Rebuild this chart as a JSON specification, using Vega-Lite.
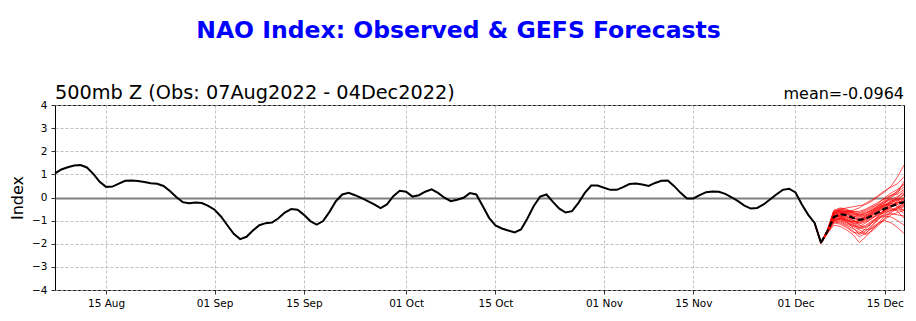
{
  "$schema": "https://vega.github.io/schema/vega-lite/v6.json",
  "width": 849,
  "height": 185,
  "autosize": {"type": "none"},
  "padding": {"left": 55, "top": 105, "right": 12, "bottom": 31},
  "background": "white",
  "title": {"text": "NAO Index: Observed & GEFS Forecasts", "font": "DejaVu Sans", "fontSize": 23.5, "fontWeight": "bold", "color": "#0000ff", "anchor": "middle", "frame": "group", "dx": -21, "offset": 42},
  "config": {
    "view": {"stroke": "black", "strokeWidth": 1},
    "font": "DejaVu Sans",
    "axis": {"labelFont": "DejaVu Sans", "labelFontSize": 10.5, "labelColor": "black", "tickColor": "black", "tickSize": 4, "tickWidth": 0.8, "labelPadding": 4, "domain": false, "gridColor": "#b0b0b0", "gridDash": [3, 2], "gridWidth": 0.8, "titleFont": "DejaVu Sans", "titleFontWeight": "normal", "titleColor": "black", "titleFontSize": 16, "labelOverlap": false}
  },
  "datasets": {
    "obs": [
      {"date": "2022-08-07", "v": 1.04}, {"date": "2022-08-08", "v": 1.21}, {"date": "2022-08-09", "v": 1.31}, {"date": "2022-08-10", "v": 1.38},
      {"date": "2022-08-11", "v": 1.40}, {"date": "2022-08-12", "v": 1.30}, {"date": "2022-08-13", "v": 1.02}, {"date": "2022-08-14", "v": 0.68},
      {"date": "2022-08-15", "v": 0.46}, {"date": "2022-08-16", "v": 0.47}, {"date": "2022-08-17", "v": 0.60}, {"date": "2022-08-18", "v": 0.72},
      {"date": "2022-08-19", "v": 0.73}, {"date": "2022-08-20", "v": 0.71}, {"date": "2022-08-21", "v": 0.67}, {"date": "2022-08-22", "v": 0.62},
      {"date": "2022-08-23", "v": 0.59}, {"date": "2022-08-24", "v": 0.50}, {"date": "2022-08-25", "v": 0.28}, {"date": "2022-08-26", "v": 0.02},
      {"date": "2022-08-27", "v": -0.20}, {"date": "2022-08-28", "v": -0.25}, {"date": "2022-08-29", "v": -0.22}, {"date": "2022-08-30", "v": -0.24},
      {"date": "2022-08-31", "v": -0.36}, {"date": "2022-09-01", "v": -0.53}, {"date": "2022-09-02", "v": -0.82}, {"date": "2022-09-03", "v": -1.20},
      {"date": "2022-09-04", "v": -1.57}, {"date": "2022-09-05", "v": -1.80}, {"date": "2022-09-06", "v": -1.70}, {"date": "2022-09-07", "v": -1.43},
      {"date": "2022-09-08", "v": -1.20}, {"date": "2022-09-09", "v": -1.11}, {"date": "2022-09-10", "v": -1.08}, {"date": "2022-09-11", "v": -0.90},
      {"date": "2022-09-12", "v": -0.65}, {"date": "2022-09-13", "v": -0.50}, {"date": "2022-09-14", "v": -0.53}, {"date": "2022-09-15", "v": -0.75},
      {"date": "2022-09-16", "v": -1.02}, {"date": "2022-09-17", "v": -1.17}, {"date": "2022-09-18", "v": -1.02}, {"date": "2022-09-19", "v": -0.62},
      {"date": "2022-09-20", "v": -0.16}, {"date": "2022-09-21", "v": 0.13}, {"date": "2022-09-22", "v": 0.20}, {"date": "2022-09-23", "v": 0.10},
      {"date": "2022-09-24", "v": -0.02}, {"date": "2022-09-25", "v": -0.16}, {"date": "2022-09-26", "v": -0.30}, {"date": "2022-09-27", "v": -0.46},
      {"date": "2022-09-28", "v": -0.30}, {"date": "2022-09-29", "v": 0.06}, {"date": "2022-09-30", "v": 0.29}, {"date": "2022-10-01", "v": 0.25},
      {"date": "2022-10-02", "v": 0.04}, {"date": "2022-10-03", "v": 0.10}, {"date": "2022-10-04", "v": 0.25}, {"date": "2022-10-05", "v": 0.35},
      {"date": "2022-10-06", "v": 0.20}, {"date": "2022-10-07", "v": -0.01}, {"date": "2022-10-08", "v": -0.16}, {"date": "2022-10-09", "v": -0.10},
      {"date": "2022-10-10", "v": -0.01}, {"date": "2022-10-11", "v": 0.19}, {"date": "2022-10-12", "v": 0.13}, {"date": "2022-10-13", "v": -0.37},
      {"date": "2022-10-14", "v": -0.88}, {"date": "2022-10-15", "v": -1.21}, {"date": "2022-10-16", "v": -1.34}, {"date": "2022-10-17", "v": -1.43},
      {"date": "2022-10-18", "v": -1.51}, {"date": "2022-10-19", "v": -1.38}, {"date": "2022-10-20", "v": -0.91}, {"date": "2022-10-21", "v": -0.37},
      {"date": "2022-10-22", "v": 0.04}, {"date": "2022-10-23", "v": 0.13}, {"date": "2022-10-24", "v": -0.19}, {"date": "2022-10-25", "v": -0.48},
      {"date": "2022-10-26", "v": -0.65}, {"date": "2022-10-27", "v": -0.59}, {"date": "2022-10-28", "v": -0.23}, {"date": "2022-10-29", "v": 0.20},
      {"date": "2022-10-30", "v": 0.52}, {"date": "2022-10-31", "v": 0.52}, {"date": "2022-11-01", "v": 0.42}, {"date": "2022-11-02", "v": 0.33},
      {"date": "2022-11-03", "v": 0.33}, {"date": "2022-11-04", "v": 0.45}, {"date": "2022-11-05", "v": 0.58}, {"date": "2022-11-06", "v": 0.61},
      {"date": "2022-11-07", "v": 0.56}, {"date": "2022-11-08", "v": 0.50}, {"date": "2022-11-09", "v": 0.63}, {"date": "2022-11-10", "v": 0.72},
      {"date": "2022-11-11", "v": 0.73}, {"date": "2022-11-12", "v": 0.49}, {"date": "2022-11-13", "v": 0.20}, {"date": "2022-11-14", "v": -0.04},
      {"date": "2022-11-15", "v": -0.04}, {"date": "2022-11-16", "v": 0.10}, {"date": "2022-11-17", "v": 0.23}, {"date": "2022-11-18", "v": 0.26},
      {"date": "2022-11-19", "v": 0.25}, {"date": "2022-11-20", "v": 0.16}, {"date": "2022-11-21", "v": 0.01}, {"date": "2022-11-22", "v": -0.16},
      {"date": "2022-11-23", "v": -0.35}, {"date": "2022-11-24", "v": -0.48}, {"date": "2022-11-25", "v": -0.45}, {"date": "2022-11-26", "v": -0.30},
      {"date": "2022-11-27", "v": -0.09}, {"date": "2022-11-28", "v": 0.13}, {"date": "2022-11-29", "v": 0.33}, {"date": "2022-11-30", "v": 0.38},
      {"date": "2022-12-01", "v": 0.22}, {"date": "2022-12-02", "v": -0.30}, {"date": "2022-12-03", "v": -0.75}, {"date": "2022-12-04", "v": -1.10},
      {"date": "2022-12-05", "v": -1.97}
    ],
    "ens": [
      {"date": "2022-12-04", "m1": -1.1, "m2": -1.1, "m3": -1.1, "m4": -1.1, "m5": -1.1, "m6": -1.1, "m7": -1.1, "m8": -1.1, "m9": -1.1, "m10": -1.1, "m11": -1.1, "m12": -1.1, "m13": -1.1, "m14": -1.1, "m15": -1.1, "m16": -1.1, "m17": -1.1, "m18": -1.1, "m19": -1.1, "m20": -1.1, "m21": -1.1, "m22": -1.1, "m23": -1.1, "m24": -1.1, "m25": -1.1, "m26": -1.1, "m27": -1.1, "m28": -1.1, "m29": -1.1, "m30": -1.1},
      {"date": "2022-12-05", "m1": -1.95, "m2": -1.97, "m3": -1.96, "m4": -1.98, "m5": -1.95, "m6": -1.96, "m7": -1.97, "m8": -1.95, "m9": -1.98, "m10": -1.96, "m11": -1.97, "m12": -1.95, "m13": -1.96, "m14": -1.97, "m15": -1.95, "m16": -1.96, "m17": -1.98, "m18": -1.96, "m19": -1.97, "m20": -1.95, "m21": -1.96, "m22": -1.97, "m23": -1.95, "m24": -1.98, "m25": -1.96, "m26": -1.95, "m27": -1.97, "m28": -1.96, "m29": -1.95, "m30": -1.97},
      {"date": "2022-12-06", "m1": -1.40, "m2": -1.45, "m3": -1.50, "m4": -1.55, "m5": -1.40, "m6": -1.45, "m7": -1.50, "m8": -1.42, "m9": -1.52, "m10": -1.48, "m11": -1.44, "m12": -1.40, "m13": -1.46, "m14": -1.50, "m15": -1.43, "m16": -1.47, "m17": -1.55, "m18": -1.45, "m19": -1.48, "m20": -1.42, "m21": -1.44, "m22": -1.49, "m23": -1.41, "m24": -1.53, "m25": -1.46, "m26": -1.43, "m27": -1.50, "m28": -1.47, "m29": -1.42, "m30": -1.51},
      {"date": "2022-12-07", "m1": -0.60, "m2": -0.75, "m3": -0.95, "m4": -1.20, "m5": -0.70, "m6": -0.85, "m7": -0.90, "m8": -0.65, "m9": -1.00, "m10": -0.80, "m11": -0.75, "m12": -0.55, "m13": -0.85, "m14": -1.05, "m15": -0.70, "m16": -0.80, "m17": -1.10, "m18": -0.80, "m19": -0.90, "m20": -0.65, "m21": -0.70, "m22": -0.95, "m23": -0.60, "m24": -1.05, "m25": -0.80, "m26": -0.70, "m27": -0.95, "m28": -0.85, "m29": -0.60, "m30": -1.00},
      {"date": "2022-12-08", "m1": -0.50, "m2": -0.65, "m3": -0.90, "m4": -1.25, "m5": -0.60, "m6": -0.80, "m7": -0.75, "m8": -0.55, "m9": -1.00, "m10": -0.70, "m11": -0.80, "m12": -0.45, "m13": -0.85, "m14": -1.10, "m15": -0.65, "m16": -0.70, "m17": -1.15, "m18": -0.75, "m19": -0.90, "m20": -0.60, "m21": -0.55, "m22": -0.95, "m23": -0.55, "m24": -1.05, "m25": -0.85, "m26": -0.65, "m27": -0.90, "m28": -0.80, "m29": -0.50, "m30": -0.95},
      {"date": "2022-12-09", "m1": -0.45, "m2": -0.60, "m3": -1.05, "m4": -1.40, "m5": -0.65, "m6": -0.90, "m7": -0.80, "m8": -0.55, "m9": -1.15, "m10": -0.70, "m11": -0.95, "m12": -0.50, "m13": -1.00, "m14": -1.25, "m15": -0.70, "m16": -0.65, "m17": -1.30, "m18": -0.85, "m19": -1.00, "m20": -0.75, "m21": -0.60, "m22": -1.10, "m23": -0.65, "m24": -1.20, "m25": -0.95, "m26": -0.60, "m27": -0.95, "m28": -0.85, "m29": -0.55, "m30": -1.05},
      {"date": "2022-12-10", "m1": -0.40, "m2": -0.55, "m3": -1.30, "m4": -1.60, "m5": -0.75, "m6": -1.00, "m7": -0.95, "m8": -0.60, "m9": -1.25, "m10": -0.80, "m11": -1.10, "m12": -0.65, "m13": -1.15, "m14": -1.45, "m15": -0.85, "m16": -0.60, "m17": -1.50, "m18": -1.00, "m19": -1.05, "m20": -0.90, "m21": -0.70, "m22": -1.20, "m23": -0.80, "m24": -1.35, "m25": -1.05, "m26": -0.65, "m27": -1.10, "m28": -0.90, "m29": -0.70, "m30": -1.20},
      {"date": "2022-12-11", "m1": -0.35, "m2": -0.45, "m3": -1.60, "m4": -1.95, "m5": -0.80, "m6": -1.10, "m7": -1.20, "m8": -0.65, "m9": -1.40, "m10": -0.90, "m11": -1.25, "m12": -0.70, "m13": -1.30, "m14": -1.70, "m15": -1.00, "m16": -0.60, "m17": -1.55, "m18": -1.05, "m19": -1.10, "m20": -0.95, "m21": -0.75, "m22": -1.35, "m23": -0.85, "m24": -1.50, "m25": -1.00, "m26": -0.75, "m27": -1.15, "m28": -0.95, "m29": -0.80, "m30": -1.30},
      {"date": "2022-12-12", "m1": -0.30, "m2": -0.25, "m3": -1.45, "m4": -1.70, "m5": -0.70, "m6": -1.00, "m7": -1.30, "m8": -0.55, "m9": -1.55, "m10": -0.85, "m11": -1.10, "m12": -0.60, "m13": -1.20, "m14": -1.55, "m15": -0.95, "m16": -0.50, "m17": -1.35, "m18": -0.90, "m19": -0.95, "m20": -0.80, "m21": -0.65, "m22": -1.25, "m23": -0.75, "m24": -1.60, "m25": -0.85, "m26": -0.70, "m27": -1.05, "m28": -0.90, "m29": -0.80, "m30": -1.40},
      {"date": "2022-12-13", "m1": -0.15, "m2": -0.10, "m3": -1.20, "m4": -1.40, "m5": -0.50, "m6": -0.85, "m7": -1.10, "m8": -0.40, "m9": -1.30, "m10": -0.70, "m11": -0.90, "m12": -0.45, "m13": -1.00, "m14": -1.25, "m15": -0.75, "m16": -0.35, "m17": -1.10, "m18": -0.65, "m19": -0.80, "m20": -0.60, "m21": -0.55, "m22": -1.05, "m23": -0.60, "m24": -1.45, "m25": -0.70, "m26": -0.55, "m27": -0.90, "m28": -0.75, "m29": -0.65, "m30": -1.35},
      {"date": "2022-12-14", "m1": 0.05, "m2": 0.10, "m3": -0.90, "m4": -1.10, "m5": -0.35, "m6": -0.70, "m7": -0.80, "m8": -0.30, "m9": -1.10, "m10": -0.50, "m11": -0.75, "m12": -0.25, "m13": -0.85, "m14": -0.95, "m15": -0.55, "m16": -0.20, "m17": -0.90, "m18": -0.45, "m19": -0.60, "m20": -0.40, "m21": -0.40, "m22": -0.80, "m23": -0.45, "m24": -1.20, "m25": -0.55, "m26": -0.35, "m27": -0.70, "m28": -0.60, "m29": -0.50, "m30": -1.15},
      {"date": "2022-12-15", "m1": 0.25, "m2": 0.30, "m3": -0.60, "m4": -0.80, "m5": -0.20, "m6": -0.55, "m7": -0.50, "m8": -0.15, "m9": -1.00, "m10": -0.30, "m11": -0.65, "m12": 0.00, "m13": -0.75, "m14": -0.70, "m15": -0.35, "m16": -0.05, "m17": -0.80, "m18": -0.25, "m19": -0.45, "m20": -0.30, "m21": -0.20, "m22": -0.55, "m23": -0.35, "m24": -0.95, "m25": -0.40, "m26": -0.10, "m27": -0.60, "m28": -0.45, "m29": -0.35, "m30": -0.90},
      {"date": "2022-12-16", "m1": 0.50, "m2": 0.45, "m3": -0.40, "m4": -0.60, "m5": -0.10, "m6": -0.45, "m7": -0.20, "m8": -0.05, "m9": -1.10, "m10": -0.15, "m11": -0.55, "m12": 0.20, "m13": -0.70, "m14": -0.55, "m15": -0.20, "m16": 0.10, "m17": -0.85, "m18": 0.00, "m19": -0.30, "m20": -0.35, "m21": 0.05, "m22": -0.35, "m23": -0.25, "m24": -0.75, "m25": -0.25, "m26": 0.10, "m27": -0.50, "m28": -0.40, "m29": -0.15, "m30": -0.65},
      {"date": "2022-12-17", "m1": 0.90, "m2": 0.60, "m3": -0.30, "m4": -0.50, "m5": 0.05, "m6": -0.60, "m7": 0.00, "m8": -0.30, "m9": -1.30, "m10": -0.05, "m11": -0.45, "m12": 0.35, "m13": -0.75, "m14": -0.40, "m15": -0.10, "m16": 0.25, "m17": -1.00, "m18": 0.20, "m19": -0.20, "m20": -0.25, "m21": 0.30, "m22": -0.15, "m23": -0.40, "m24": -0.65, "m25": -0.10, "m26": 0.15, "m27": -0.55, "m28": -0.20, "m29": -0.05, "m30": -0.45},
      {"date": "2022-12-18", "m1": 1.40, "m2": 0.90, "m3": -0.10, "m4": -0.40, "m5": 0.20, "m6": -0.90, "m7": 0.30, "m8": -0.60, "m9": -1.55, "m10": 0.10, "m11": -0.35, "m12": 0.55, "m13": -0.80, "m14": -0.30, "m15": -0.05, "m16": 0.45, "m17": -1.20, "m18": 0.70, "m19": -0.15, "m20": -0.05, "m21": 0.60, "m22": 0.00, "m23": -0.70, "m24": -0.55, "m25": 0.15, "m26": 0.35, "m27": -0.50, "m28": -0.25, "m29": -0.40, "m30": -0.20}
    ],
    "mean": [
      {"date": "2022-12-05", "v": -1.95}, {"date": "2022-12-06", "v": -1.46}, {"date": "2022-12-07", "v": -0.85}, {"date": "2022-12-08", "v": -0.72},
      {"date": "2022-12-09", "v": -0.76}, {"date": "2022-12-10", "v": -0.88}, {"date": "2022-12-11", "v": -0.97}, {"date": "2022-12-12", "v": -0.92},
      {"date": "2022-12-13", "v": -0.78}, {"date": "2022-12-14", "v": -0.64}, {"date": "2022-12-15", "v": -0.48}, {"date": "2022-12-16", "v": -0.38},
      {"date": "2022-12-17", "v": -0.28}, {"date": "2022-12-18", "v": -0.20}
    ]
  },
  "layer": [
    {
      "encoding": {
        "x": {"field": "date", "type": "temporal", "title": null,
          "scale": {"type": "utc", "domain": [{"year": 2022, "month": 8, "date": 7, "utc": true}, {"year": 2022, "month": 12, "date": 18, "utc": true}]},
          "axis": {"format": "%d %b", "grid": true, "labelFlush": false,
            "values": [{"year": 2022, "month": 8, "date": 15, "utc": true}, {"year": 2022, "month": 9, "date": 1, "utc": true}, {"year": 2022, "month": 9, "date": 15, "utc": true}, {"year": 2022, "month": 10, "date": 1, "utc": true}, {"year": 2022, "month": 10, "date": 15, "utc": true}, {"year": 2022, "month": 11, "date": 1, "utc": true}, {"year": 2022, "month": 11, "date": 15, "utc": true}, {"year": 2022, "month": 12, "date": 1, "utc": true}, {"year": 2022, "month": 12, "date": 15, "utc": true}]}},
        "y": {"field": "v", "type": "quantitative", "title": "Index",
          "scale": {"domain": [-4, 4], "nice": false, "zero": false},
          "axis": {"values": [-4, -3, -2, -1, 0, 1, 2, 3, 4], "grid": true, "titlePadding": 6, "labelFlush": false,
            "gridColor": {"condition": {"test": "datum.value === 0", "value": "#808080"}, "value": "#b0b0b0"},
            "gridWidth": {"condition": {"test": "datum.value === 0", "value": 1.8}, "value": 0.8},
            "gridDash": {"condition": {"test": "datum.value === 0", "value": []}, "value": [3, 2]}}}
      },
      "layer": [
        {
          "data": {"name": "ens"},
          "transform": [{"fold": ["m1", "m2", "m3", "m4", "m5", "m6", "m7", "m8", "m9", "m10", "m11", "m12", "m13", "m14", "m15", "m16", "m17", "m18", "m19", "m20", "m21", "m22", "m23", "m24", "m25", "m26", "m27", "m28", "m29", "m30"], "as": ["member", "v"]}],
          "mark": {"type": "line", "color": "#ff0000", "strokeWidth": 0.75, "opacity": 0.9},
          "encoding": {"detail": {"field": "member", "type": "nominal"}}
        },
        {
          "data": {"name": "obs"},
          "mark": {"type": "line", "color": "black", "strokeWidth": 2}
        },
        {
          "data": {"name": "mean"},
          "mark": {"type": "line", "color": "black", "strokeWidth": 2.2, "strokeDash": [6, 3]}
        }
      ]
    },
    {
      "data": {"values": [{}]},
      "mark": {"type": "text", "align": "left", "baseline": "alphabetic", "dy": -6, "fontSize": 19.3, "font": "DejaVu Sans", "color": "black"},
      "encoding": {
        "x": {"datum": {"year": 2022, "month": 8, "date": 7, "utc": true}, "type": "temporal", "title": null,
          "axis": {"format": "%d %b", "grid": true, "labelFlush": false,
            "values": [{"year": 2022, "month": 8, "date": 15, "utc": true}, {"year": 2022, "month": 9, "date": 1, "utc": true}, {"year": 2022, "month": 9, "date": 15, "utc": true}, {"year": 2022, "month": 10, "date": 1, "utc": true}, {"year": 2022, "month": 10, "date": 15, "utc": true}, {"year": 2022, "month": 11, "date": 1, "utc": true}, {"year": 2022, "month": 11, "date": 15, "utc": true}, {"year": 2022, "month": 12, "date": 1, "utc": true}, {"year": 2022, "month": 12, "date": 15, "utc": true}]}},
        "y": {"datum": 4, "type": "quantitative", "title": "Index",
          "axis": {"values": [-4, -3, -2, -1, 0, 1, 2, 3, 4], "grid": true, "titlePadding": 6, "labelFlush": false,
            "gridColor": {"condition": {"test": "datum.value === 0", "value": "#808080"}, "value": "#b0b0b0"},
            "gridWidth": {"condition": {"test": "datum.value === 0", "value": 1.8}, "value": 0.8},
            "gridDash": {"condition": {"test": "datum.value === 0", "value": []}, "value": [3, 2]}}},
        "text": {"value": "500mb Z (Obs: 07Aug2022 - 04Dec2022)"}
      }
    },
    {
      "data": {"values": [{}]},
      "mark": {"type": "text", "align": "right", "baseline": "alphabetic", "dy": -6, "fontSize": 16, "font": "DejaVu Sans", "color": "black"},
      "encoding": {
        "x": {"datum": {"year": 2022, "month": 12, "date": 18, "utc": true}, "type": "temporal", "title": null,
          "axis": {"format": "%d %b", "grid": true, "labelFlush": false,
            "values": [{"year": 2022, "month": 8, "date": 15, "utc": true}, {"year": 2022, "month": 9, "date": 1, "utc": true}, {"year": 2022, "month": 9, "date": 15, "utc": true}, {"year": 2022, "month": 10, "date": 1, "utc": true}, {"year": 2022, "month": 10, "date": 15, "utc": true}, {"year": 2022, "month": 11, "date": 1, "utc": true}, {"year": 2022, "month": 11, "date": 15, "utc": true}, {"year": 2022, "month": 12, "date": 1, "utc": true}, {"year": 2022, "month": 12, "date": 15, "utc": true}]}},
        "y": {"datum": 4, "type": "quantitative", "title": "Index",
          "axis": {"values": [-4, -3, -2, -1, 0, 1, 2, 3, 4], "grid": true, "titlePadding": 6, "labelFlush": false,
            "gridColor": {"condition": {"test": "datum.value === 0", "value": "#808080"}, "value": "#b0b0b0"},
            "gridWidth": {"condition": {"test": "datum.value === 0", "value": 1.8}, "value": 0.8},
            "gridDash": {"condition": {"test": "datum.value === 0", "value": []}, "value": [3, 2]}}},
        "text": {"value": "mean=-0.0964"}
      }
    }
  ]
}
